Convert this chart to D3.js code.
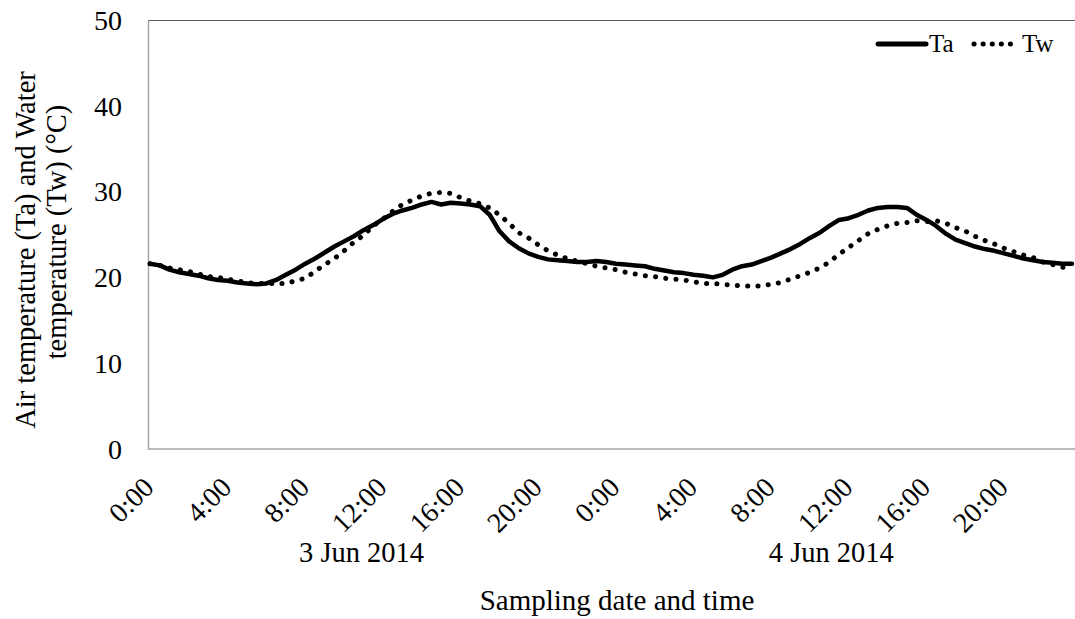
<!DOCTYPE html>
<html>
<head>
<meta charset="utf-8">
<script src="https://cdn.jsdelivr.net/npm/d3@7/dist/d3.min.js"></script>
<style>
  html, body { margin: 0; padding: 0; background: #fff; }
  svg { display: block; }
  text { font-family: "Liberation Serif", "Times New Roman", serif; fill: #000; }
</style>
</head>
<body>
<svg id="chart" width="1075" height="619"></svg>
<script>
// Half-hourly samples (hours since 0:00, 3 Jun 2014)
const hours = d3.range(96).map(i => i / 2);

// Air temperature (Ta), °C
const ta = [
  21.6, 21.4, 20.9, 20.6, 20.4, 20.2, 19.9, 19.7, 19.6, 19.4, 19.3, 19.2,
  19.3, 19.7, 20.3, 20.9, 21.6, 22.2, 22.9, 23.6, 24.2, 24.8, 25.5, 26.1,
  26.8, 27.4, 27.8, 28.1, 28.5, 28.8, 28.5, 28.7, 28.6, 28.5, 28.3, 27.3,
  25.4, 24.2, 23.4, 22.8, 22.4, 22.1, 22.0, 21.9, 21.8, 21.8, 21.9, 21.8,
  21.6, 21.5, 21.4, 21.3, 21.0, 20.8, 20.6, 20.5, 20.3, 20.2, 20.0, 20.3,
  20.9, 21.3, 21.5, 21.9, 22.3, 22.8, 23.3, 23.9, 24.6, 25.2, 26.0, 26.7,
  26.9, 27.3, 27.8, 28.1, 28.2, 28.2, 28.1, 27.3, 26.7, 26.0, 25.1, 24.4,
  24.0, 23.6, 23.3, 23.1, 22.8, 22.5, 22.2, 22.0, 21.8, 21.7, 21.6, 21.6
];

// Water temperature (Tw), °C
const tw = [
  21.6, 21.4, 21.1, 20.9, 20.7, 20.4, 20.1, 20.0, 19.8, 19.6, 19.4, 19.3,
  19.3, 19.3, 19.3, 19.6, 19.9, 20.7, 21.5, 22.2, 23.1, 24.1, 24.9, 26.0,
  26.8, 27.7, 28.5, 29.0, 29.5, 29.8, 29.9, 29.8, 29.3, 28.9, 28.6, 28.1,
  27.3, 26.3, 25.2, 24.6, 23.8, 23.1, 22.6, 22.2, 21.9, 21.6, 21.3, 21.1,
  20.9, 20.6, 20.4, 20.2, 20.1, 19.9, 19.8, 19.7, 19.5, 19.3, 19.3, 19.2,
  19.1, 19.0, 19.0, 19.0, 19.2, 19.4, 19.8, 20.2, 20.6, 21.1, 21.8, 22.7,
  23.5, 24.3, 25.1, 25.6, 26.0, 26.3, 26.4, 26.6, 26.5, 26.6, 26.3, 25.8,
  25.4, 24.8, 24.3, 23.9, 23.4, 23.0, 22.6, 22.3, 21.8, 21.5, 21.2, 21.0
];

const xTickHours = [0, 4, 8, 12, 16, 20, 24, 28, 32, 36, 40, 44];
const xTickLabels = ["0:00", "4:00", "8:00", "12:00", "16:00", "20:00",
                     "0:00", "4:00", "8:00", "12:00", "16:00", "20:00"];
const yTicks = [0, 10, 20, 30, 40, 50];
const dayLabels = ["3 Jun 2014", "4 Jun 2014"];
const dayLabelHours = [10.9, 35.1];
const seriesNames = ["Ta", "Tw"];

const svg = d3.select("#chart");
const plot = { left: 148, top: 20, right: 1075, bottom: 449 };

const x = d3.scaleLinear().domain([0, 47.5]).range([150, 1072]);
const y = d3.scaleLinear().domain([0, 50]).range([plot.bottom, plot.top]);

// plot border (top)
svg.append("line").attr("x1", plot.left).attr("x2", plot.right)
  .attr("y1", plot.top + 0.5).attr("y2", plot.top + 0.5)
  .attr("stroke", "#595959").attr("stroke-width", 1);

// y axis
const yAxis = svg.append("g").attr("transform", `translate(${plot.left},0)`)
  .call(d3.axisLeft(y).tickValues(yTicks).tickSize(0).tickPadding(26).tickFormat(d3.format("d")));
yAxis.select(".domain").attr("stroke", "#a6a6a6").attr("stroke-width", 1.5);
yAxis.selectAll("text").style("font-size", "28px")
  .style("font-family", "'Liberation Serif', serif").attr("dy", "0.33em");

// x axis
const xAxis = svg.append("g").attr("transform", `translate(0,${plot.bottom})`)
  .call(d3.axisBottom(x).tickValues(xTickHours).tickSize(0).tickFormat((d, i) => xTickLabels[i]));
xAxis.select(".domain").attr("d", `M${plot.left},0H${plot.right}`)
  .attr("stroke", "#a6a6a6").attr("stroke-width", 1.5);
xAxis.selectAll("text")
  .style("font-size", "28px").style("font-family", "'Liberation Serif', serif")
  .attr("text-anchor", "end").attr("y", 0).attr("dy", 0)
  .attr("transform", "translate(5,40) rotate(-45)");

// day labels
svg.selectAll(".day").data(dayLabels).join("text")
  .attr("class", "day")
  .attr("x", (d, i) => x(dayLabelHours[i])).attr("y", 562)
  .attr("text-anchor", "middle").style("font-size", "28.5px").text(d => d);

// axis titles
svg.append("text").attr("x", 617).attr("y", 610).attr("text-anchor", "middle")
  .style("font-size", "29px").text("Sampling date and time");
svg.append("text").attr("transform", "translate(35,250) rotate(-90)")
  .attr("text-anchor", "middle").style("font-size", "28.5px")
  .text("Air temperature  (Ta) and Water");
svg.append("text").attr("transform", "translate(66,232) rotate(-90)")
  .attr("text-anchor", "middle").style("font-size", "28.5px")
  .text("temperature (Tw) (°C)");

// lines
const line = d3.line().x((d, i) => x(hours[i])).y(d => y(d)).curve(d3.curveLinear);
svg.append("path").datum(tw).attr("d", line)
  .attr("fill", "none").attr("stroke", "#000").attr("stroke-width", 5)
  .attr("stroke-linecap", "round").attr("stroke-dasharray", "0.1 10.2");
svg.append("path").datum(ta).attr("d", line)
  .attr("fill", "none").attr("stroke", "#000").attr("stroke-width", 4.5)
  .attr("stroke-linejoin", "round").attr("stroke-linecap", "round");

// legend
const lg = svg.append("g");
lg.append("line").attr("x1", 878).attr("x2", 926).attr("y1", 44).attr("y2", 44)
  .attr("stroke", "#000").attr("stroke-width", 5).attr("stroke-linecap", "round");
lg.append("text").attr("x", 929).attr("y", 52).style("font-size", "25px").text(seriesNames[0]);
lg.append("line").attr("x1", 974).attr("x2", 1019).attr("y1", 44).attr("y2", 44)
  .attr("stroke", "#000").attr("stroke-width", 5).attr("stroke-linecap", "round")
  .attr("stroke-dasharray", "0.1 9");
lg.append("text").attr("x", 1022).attr("y", 52).style("font-size", "25px").text(seriesNames[1]);
</script>
</body>
</html>
